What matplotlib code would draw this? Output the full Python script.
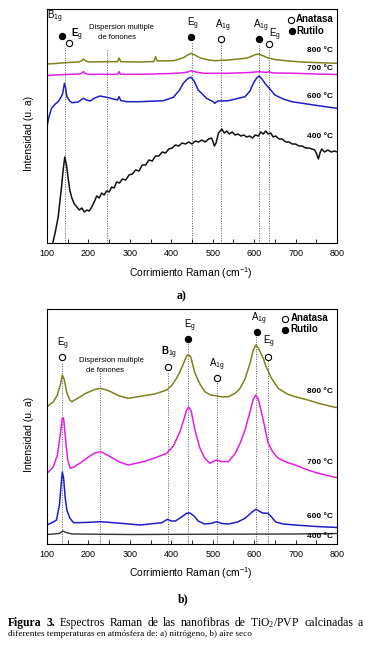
import matplotlib
matplotlib.use('Agg')
import matplotlib.pyplot as plt

plt.rcParams['font.family'] = ['Liberation Sans', 'DejaVu Sans']
plt.rcParams['mathtext.fontset'] = 'custom'
plt.rcParams['mathtext.bf'] = 'Liberation Sans:bold'
plt.rcParams['mathtext.default'] = 'regular'

W, H = 372, 654

# ---------------- panel a) nitrogen ----------------
a800_x = [100, 120, 143, 175, 183, 188, 194, 200, 244, 270, 274, 278, 325, 358, 362, 366, 405, 420, 430,
          440, 448, 456, 465, 473, 490, 505, 538, 578, 590, 600, 610, 620, 628, 634, 650, 675, 715, 755, 800]
a800_y = [179, 179.5, 180.3, 181, 182, 184, 182, 181, 181.3, 181.3, 185, 181.3, 181, 181.5, 186.3, 182, 182.3,
          184, 185.5, 188, 189.7, 188.2, 186, 184.7, 183, 182.3, 183, 184.7, 186, 188, 189, 187.5, 186, 185,
          183.5, 182.3, 181, 180.3, 179.7]

a700_x = [100, 143, 180, 184, 188, 193, 198, 270, 274, 278, 325, 400, 430, 440, 448, 457, 465, 481, 538,
          590, 602, 610, 620, 630, 636, 640, 650, 700, 750, 800]
a700_y = [167.5, 168.5, 169, 170, 171.3, 169.5, 168.7, 168.7, 171.3, 168.7, 168.7, 169.5, 170.3, 171, 172.3,
          171.3, 170.5, 169.7, 169.7, 170.5, 171, 171.3, 171, 170.5, 171.5, 170.3, 170, 169.7, 169, 168.5]

a600_x = [100, 104, 111, 120, 127, 134, 138, 142, 145, 148, 155, 160, 175, 188, 195, 204, 215, 228, 244,
          270, 274, 278, 292, 325, 381, 405, 420, 429, 440, 448, 455, 465, 485, 501, 505, 512, 538, 578,
          590, 598, 606, 612, 619, 626, 638, 650, 670, 691, 755, 800]
a600_y = [116.3, 125, 134.7, 139, 141.3, 146, 149.7, 159.7, 155, 146.3, 142, 140.3, 141, 144.7, 143, 142,
          145, 147, 145.7, 143, 146.3, 142.5, 141.3, 141.3, 142.3, 145.7, 153, 159.7, 164.5, 165.7, 162,
          153, 144.7, 141.3, 139.7, 142, 142.3, 146.3, 152, 159.7, 165, 167, 164, 159.7, 154, 148, 144,
          141.3, 137.3, 134.7]

a400_x = [114, 120, 127, 135, 139, 143, 147, 151, 155, 160, 166, 172, 178, 184, 190, 196, 202, 208, 214,
          220, 226, 232, 238, 244, 250, 256, 262, 268, 275, 282, 290, 298, 306, 314, 322, 330, 338, 346,
          354, 362, 370, 378, 386, 394, 402, 410, 418, 426, 434, 442, 450, 458, 466, 474, 482, 490, 497,
          501, 504, 508, 514, 518, 522, 528, 534, 540, 547, 554, 561, 568, 575, 582, 589, 596, 603, 610,
          616, 622, 628, 634, 640, 646, 652, 660, 668, 676, 684, 692, 700, 708, 716, 724, 732, 740, 746,
          750, 755, 759, 763, 770, 778, 786, 794, 800]
a400_y = [0, 11, 26, 56, 73, 86, 78, 65, 53, 45, 39, 36, 33, 35, 31, 33, 32, 36, 41, 47, 45, 50, 48, 52,
          51, 56, 55, 61, 60, 64, 63, 68, 69, 73, 72, 78, 78, 83, 82, 87, 87, 91, 90, 94, 95, 98, 97, 100,
          99, 101, 99, 102, 101, 103, 101, 104, 105, 101, 97, 100, 110, 112, 114, 110, 112, 109, 111, 108,
          109, 107, 108, 106, 107, 105, 108, 107, 111, 109, 112, 109, 110, 106, 107, 104, 104, 101, 101,
          99, 99, 97, 97, 95, 95, 94, 93, 90, 84, 90, 94, 91, 93, 91, 92, 91]

a_lines_x = [143, 244, 449, 519, 612, 637]
a_lines_top = [196, 194, 201, 200, 199, 193]
a_open_x = [153.8, 519, 637]
a_open_y = [199.7, 204, 198.7]
a_full_x = [135.5, 448, 612]
a_full_y = [207.3, 206.3, 203.7]

# ---------------- panel b) dry air ----------------
b800_x = [100, 115, 125, 132, 137, 142, 148, 155, 160, 175, 195, 215, 230, 250, 275, 296, 330, 360, 389,
          400, 413, 421, 430, 437, 441, 447, 457, 469, 481, 495, 510, 525, 538, 555, 566, 578, 590, 598,
          604, 610, 622, 628, 634, 640, 658, 680, 699, 730, 755, 795, 800]
b800_y = [137.3, 142, 149, 159, 169, 164, 151, 144, 142.3, 146, 151, 154.5, 155.7, 153, 148, 145.7, 148,
          150, 154, 158, 166, 172.3, 181, 188, 189.5, 187, 171, 160, 152.3, 149, 148, 147, 147.3, 151,
          155.7, 165, 180.7, 194, 199, 196, 185.7, 178, 173, 167, 155.7, 150, 147.3, 144, 140.7, 136.7,
          136.5]

b700_x = [100, 115, 125, 132, 137, 140, 145, 150, 156, 165, 180, 200, 215, 230, 250, 275, 296, 330, 360,
          389, 405, 421, 430, 437, 442, 448, 457, 469, 481, 493, 502, 510, 520, 538, 555, 566, 578, 590,
          598, 604, 610, 622, 628, 634, 645, 658, 680, 699, 730, 755, 795, 800]
b700_y = [70.7, 77, 89, 109, 126, 126, 104, 84, 75.7, 77, 81, 87, 91, 92.3, 88, 82, 79, 82, 86, 90.7, 98,
          112.3, 124, 134, 137, 133, 114, 96, 85.7, 80.7, 82.5, 84, 82.5, 82.3, 91, 100.7, 114, 132.3, 145,
          149, 145, 124, 112, 100.7, 92, 85.7, 81.5, 79, 74, 70.7, 66.7, 66.5]

b600_x = [100, 115, 123, 130, 134, 137, 140, 144, 148, 155, 164, 190, 230, 270, 325, 377, 391, 400, 410,
          425, 437, 445, 455, 465, 480, 495, 510, 522, 538, 560, 578, 595, 604, 612, 620, 633, 642, 652,
          670, 699, 750, 800]
b600_y = [19, 22, 24, 39, 59, 72, 66, 46, 34, 26, 21.3, 21.5, 22.3, 21, 19, 21.3, 24.7, 23, 23, 27, 30.7,
          31, 28, 23, 20, 20.5, 22.3, 20.5, 20, 22, 25.7, 32, 34.7, 33, 31, 30.7, 27, 22, 20, 19, 17.5, 16.5]

b400_x = [100, 130, 138, 146, 160, 300, 500, 700, 800]
b400_y = [9.5, 10.5, 13, 11.5, 10, 9.5, 9.8, 10, 10.5]

b_lines_x = [137, 228, 391, 440, 510, 605, 634]
b_lines_top = [182.3, 176, 172.3, 201, 162.3, 209, 184]
b_open_x = [136.2, 391.3, 509.6, 634]
b_open_y = [186.7, 177.3, 166.3, 187.3]
b_full_x = [439.6, 606]
b_full_y = [204.7, 212.3]

temps = ['800 °C', '700 °C', '600 °C', '400 °C']
a_temp_y = [192.3, 174, 146.3, 106]
b_temp_y = [152.3, 81.3, 27.3, 8]

col800, col700, col600, col400 = '#80801e', '#e31ee3', '#1e1ec8', '#111111'


def fx(x):
    return x / W


def fy(y):
    return 1 - y / H


def setup(ax, top):
    ax.set_xlim(100, 800)
    ax.set_ylim(0, top)
    ax.set_yticks([])
    ax.set_xticks(range(100, 801, 100))
    ax.set_xticks(range(150, 800, 100), minor=True)
    ax.tick_params(axis='x', which='both', direction='in', length=3, width=0.6, labelsize=6.5, pad=4,
                   top=False)
    for s in ax.spines.values():
        s.set_linewidth(0.8)


def markers(ax, ox, oy, fx_, fy_):
    ax.plot(ox, oy, 'o', ms=4.5, mfc='white', mec='black', mew=0.8, zorder=5)
    ax.plot(fx_, fy_, 'o', ms=4.5, mfc='black', mec='black', mew=0.8, zorder=5)


def lab(ax, x, y, s, bold=False, size=7):
    ax.text(x, y, s, ha='left', va='baseline', fontsize=size, fontweight='bold' if bold else 'normal')


fig = plt.figure(figsize=(W / 100, H / 100), dpi=100)
ax1 = fig.add_axes([fx(47), fy(243), 290 / W, 234 / H])
ax2 = fig.add_axes([fx(47), fy(544), 290 / W, 235 / H])

# panel a
setup(ax1, 234)
ax1.vlines(a_lines_x, 0, a_lines_top, colors='#555555', linestyles=(0, (1, 1.5)), lw=0.7, zorder=1)
ax1.plot(a800_x, a800_y, color=col800, lw=1.1)
ax1.plot(a700_x, a700_y, color=col700, lw=1.1)
ax1.plot(a600_x, a600_y, color=col600, lw=1.1)
ax1.plot(a400_x, a400_y, color=col400, lw=1.1)
markers(ax1, a_open_x, a_open_y, a_full_x, a_full_y)
lab(ax1, 99.5, 223.5, 'B$_{1g}$')
lab(ax1, 158, 205.5, r'$\mathbf{E}_g$')
lab(ax1, 437, 216.8, 'E$_g$')
lab(ax1, 505.5, 214.5, 'A$_{1g}$')
lab(ax1, 596.5, 214.5, 'A$_{1g}$')
lab(ax1, 636.6, 206.2, 'E$_g$')
ax1.text(280, 215.3, 'Dispersion multiple', ha='center', va='center', fontsize=5.5)
ax1.text(268, 205.3, 'de fonones', ha='center', va='center', fontsize=5.5)
ax1.plot([689], [223], 'o', ms=4.5, mfc='white', mec='black', mew=0.8)
ax1.plot([691], [212], 'o', ms=4.5, mfc='black', mec='black', mew=0.8)
ax1.text(701, 224, 'Anatasa', ha='left', va='center', fontsize=7, fontweight='bold')
ax1.text(701, 212.3, 'Rutilo', ha='left', va='center', fontsize=7, fontweight='bold')
for t, y in zip(temps, a_temp_y):
    ax1.text(790, y, t, ha='right', va='center', fontsize=6, fontweight='bold')

# panel b
setup(ax2, 235)
ax2.vlines(b_lines_x, 0, b_lines_top, colors='#555555', linestyles=(0, (1, 1.5)), lw=0.7, zorder=1)
ax2.plot(b800_x, b800_y, color=col800, lw=1.1)
ax2.plot(b700_x, b700_y, color=col700, lw=1.1)
ax2.plot(b600_x, b600_y, color=col600, lw=1.1)
ax2.plot(b400_x, b400_y, color='#333333', lw=1.0)
markers(ax2, b_open_x, b_open_y, b_full_x, b_full_y)
lab(ax2, 125, 198.2, 'E$_g$')
lab(ax2, 374.4, 188.8, r'$\mathbf{B}_{1g}$')
lab(ax2, 430.7, 215.5, 'E$_g$')
lab(ax2, 491, 177.2, 'A$_{1g}$')
lab(ax2, 591.7, 222.8, 'A$_{1g}$')
lab(ax2, 620.6, 199.5, 'E$_g$')
ax2.text(255, 183, 'Dispersion multiple', ha='center', va='center', fontsize=5.5)
ax2.text(240.5, 173, 'de fonones', ha='center', va='center', fontsize=5.5)
ax2.plot([674.5], [225], 'o', ms=4.5, mfc='white', mec='black', mew=0.8)
ax2.plot([674.5], [214], 'o', ms=4.5, mfc='black', mec='black', mew=0.8)
ax2.text(688, 225.7, 'Anatasa', ha='left', va='center', fontsize=7, fontweight='bold')
ax2.text(688, 215, 'Rutilo', ha='left', va='center', fontsize=7, fontweight='bold')
for t, y in zip(temps, b_temp_y):
    ax2.text(790, y, t, ha='right', va='center', fontsize=6, fontweight='bold')

# axis labels
xl = 'Corrimiento Raman (cm$^{-1}$)'
fig.text(fx(191), fy(273), xl, ha='center', va='center', fontsize=7.5)
fig.text(fx(191), fy(573), xl, ha='center', va='center', fontsize=7.5)
fig.text(fx(29), fy(133), 'Intensidad (u. a)', ha='center', va='center', rotation=90, fontsize=7.5)
fig.text(fx(29), fy(434), 'Intensidad (u. a)', ha='center', va='center', rotation=90, fontsize=7.5)
fig.text(fx(182), fy(296), 'a)', ha='center', va='center', fontsize=8.5, fontweight='bold',
         family='Liberation Serif')
fig.text(fx(183), fy(599), 'b)', ha='center', va='center', fontsize=8.5, fontweight='bold',
         family='Liberation Serif')

# caption, first line justified across the width
renderer = fig.canvas.get_renderer()
line1 = [('Figura', True), ('3.', True), ('Espectros', False), ('Raman', False), ('de', False),
         ('las', False), ('nanofibras', False), ('de', False), ('TiO$_2$/PVP', False),
         ('calcinadas', False), ('a', False)]
x0, x1 = 8.3, 363
base = 7.3
texts = []
for w, b in line1:
    t = fig.text(0, fy(626), w, ha='left', va='baseline', fontsize=base,
                 fontweight='bold' if b else 'normal', family='Liberation Serif')
    texts.append(t)
natural = sum(t.get_window_extent(renderer).width for t in texts) + 10 * 0.3 * base * 100 / 72
size1 = min(8.4, base * (x1 - x0) / natural)
for t in texts:
    t.set_fontsize(size1)
widths = [t.get_window_extent(renderer).width for t in texts]
gap = (x1 - x0 - sum(widths)) / (len(texts) - 1)
x = x0
for t, w in zip(texts, widths):
    t.set_x(fx(x))
    x += w + gap
fig.text(fx(8.3), fy(636), 'diferentes temperaturas en atmósfera de: a) nitrógeno, b) aire seco',
         ha='left', va='baseline', fontsize=6.6, family='Liberation Serif')

fig.savefig('out.png', dpi=100)
